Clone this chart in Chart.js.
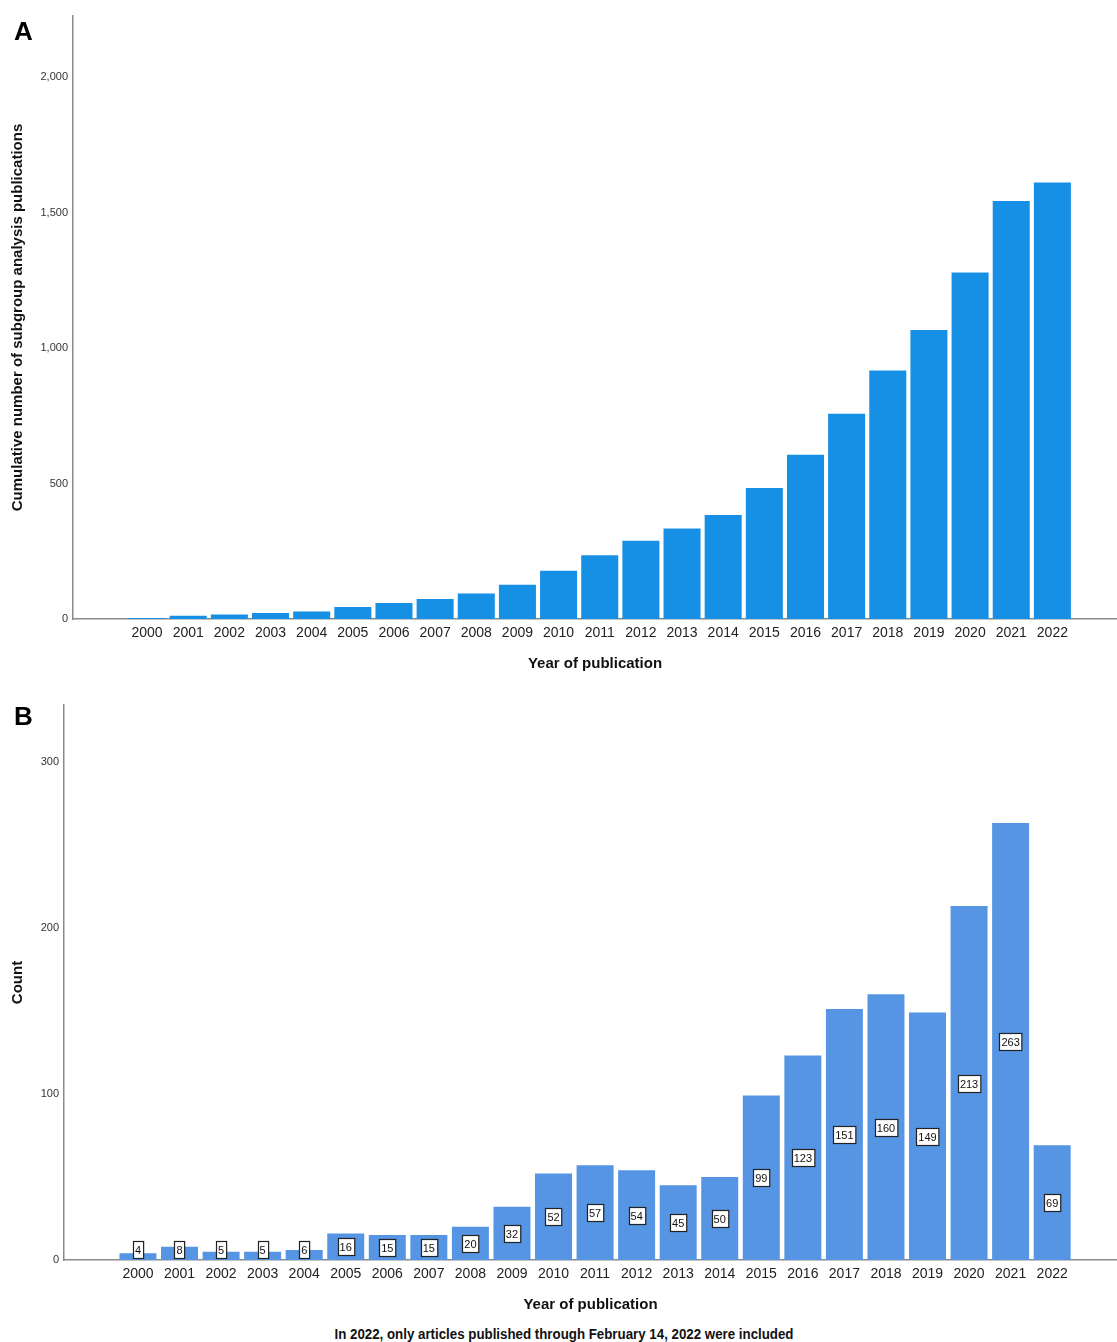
<!DOCTYPE html>
<html>
<head>
<meta charset="utf-8">
<script src="https://cdn.jsdelivr.net/npm/chart.js@4"></script>
<style>
  body { margin: 0; background: #fff; width: 1117px; height: 1342px; position: relative; overflow: hidden; font-family: 'Liberation Sans', Arial, sans-serif; }
  .wrap { position: absolute; left: 0; width: 1117px; }
  .panel { position: absolute; left: 14px; font-weight: bold; font-size: 26px; color: #000; }
  #note { position: absolute; left: 0; width: 1128px; top: 1326px; text-align: center; font-weight: bold; font-size: 14px; color: #111; transform: scaleX(0.95); }
</style>
</head>
<body>
<div class="wrap" style="top:0;height:680px"><canvas id="chartA" width="1117" height="680"></canvas></div>
<div class="wrap" style="top:690px;height:630px"><canvas id="chartB" width="1117" height="630"></canvas></div>
<div class="panel" style="top:16px">A</div>
<div class="panel" style="top:701px">B</div>
<div id="note">In 2022, only articles published through February 14, 2022 were included</div>
<script>
const years = [2000, 2001, 2002, 2003, 2004, 2005, 2006, 2007, 2008, 2009, 2010, 2011,
               2012, 2013, 2014, 2015, 2016, 2017, 2018, 2019, 2020, 2021, 2022];
const counts = [4, 8, 5, 5, 6, 16, 15, 15, 20, 32, 52, 57, 54, 45, 50, 99, 123, 151, 160, 149, 213, 263, 69];
const cumulative = [4, 12, 17, 22, 28, 44, 59, 74, 94, 126, 178, 235, 289, 334, 384, 483, 606, 757, 917, 1066, 1279, 1542, 1611];
const cumulativeTicks = [0, 500, 1000, 1500, 2000];
const countTicks = [0, 100, 200, 300];

Chart.defaults.font.family = "'Liberation Sans', Arial, sans-serif";
Chart.defaults.animation = false;

function xAxis(min, max, height, titlePadBottom) {
    return {
        type: 'linear',
        offset: false,
        min: min,
        max: max,
        afterFit: s => { s.height = height; },
        afterBuildTicks: s => { s.ticks = years.map(v => ({ value: v })); },
        grid: { display: false, drawTicks: false },
        border: { display: true, color: '#8a8a8a', width: 1.5 },
        ticks: {
            autoSkip: false,
            maxRotation: 0,
            padding: 6,
            color: '#222',
            font: { size: 14 },
            callback: v => String(v)
        },
        title: {
            display: true,
            text: 'Year of publication',
            color: '#111',
            font: { size: 15, weight: 'bold' },
            padding: { top: 0, bottom: titlePadBottom }
        }
    };
}

function yAxis(max, width, tickList, titleText) {
    return {
        min: 0,
        max: max,
        afterFit: s => { s.width = width; },
        afterBuildTicks: s => { s.ticks = tickList.map(v => ({ value: v })); },
        grid: { display: false, drawTicks: false },
        border: { display: true, color: '#8a8a8a', width: 1.5 },
        ticks: {
            autoSkip: false,
            padding: 5,
            color: '#333',
            font: { size: 11 },
            callback: v => v.toLocaleString('en-US')
        },
        title: {
            display: true,
            text: titleText,
            color: '#111',
            font: { size: 15, weight: 'bold' },
            padding: { top: 9, bottom: 0 }
        }
    };
}

new Chart(document.getElementById('chartA'), {
    type: 'bar',
    data: {
        datasets: [{
            data: years.map((y, i) => ({ x: y, y: cumulative[i] })),
            backgroundColor: '#1690e5',
            barPercentage: 0.9,
            categoryPercentage: 1
        }]
    },
    options: {
        responsive: false,
        layout: { padding: { top: 16, right: 0, left: 0, bottom: 0 } },
        plugins: { legend: { display: false }, tooltip: { enabled: false } },
        scales: {
            x: xAxis(1998.2, 2023.57, 61, 7),
            y: yAxis(2225, 73, cumulativeTicks, 'Cumulative number of subgroup analysis publications')
        }
    }
});

const boxLabels = {
    id: 'boxLabels',
    afterDatasetsDraw(chart) {
        const ctx = chart.ctx;
        const meta = chart.getDatasetMeta(0);
        ctx.save();
        ctx.font = "11px 'Liberation Sans', Arial, sans-serif";
        ctx.textAlign = 'center';
        ctx.textBaseline = 'middle';
        meta.data.forEach((el, i) => {
            const txt = String(counts[i]);
            const w = ctx.measureText(txt).width + 4;
            const h = 17;
            let cy = (el.y + el.base) / 2;
            if (cy > el.base - h / 2 - 2) cy = el.base - h / 2 - 2;
            const x0 = Math.round(el.x - w / 2) + 0.5;
            const y0 = Math.round(cy - h / 2) + 0.5;
            ctx.fillStyle = '#fff';
            ctx.fillRect(x0, y0, w, h);
            ctx.strokeStyle = '#222';
            ctx.lineWidth = 1.2;
            ctx.strokeRect(x0, y0, w, h);
            ctx.fillStyle = '#111';
            ctx.fillText(txt, el.x, y0 + h / 2 + 0.5);
        });
        ctx.restore();
    }
};

new Chart(document.getElementById('chartB'), {
    type: 'bar',
    data: {
        datasets: [{
            data: years.map((y, i) => ({ x: y, y: counts[i] })),
            backgroundColor: '#5595e4',
            barPercentage: 0.89,
            categoryPercentage: 1
        }]
    },
    options: {
        responsive: false,
        layout: { padding: { top: 15, right: 0, left: 0, bottom: 0 } },
        plugins: { legend: { display: false }, tooltip: { enabled: false } },
        scales: {
            x: xAxis(1998.22, 2023.56, 60, 6),
            y: yAxis(334, 64, countTicks, 'Count')
        }
    },
    plugins: [boxLabels]
});
</script>
</body>
</html>
